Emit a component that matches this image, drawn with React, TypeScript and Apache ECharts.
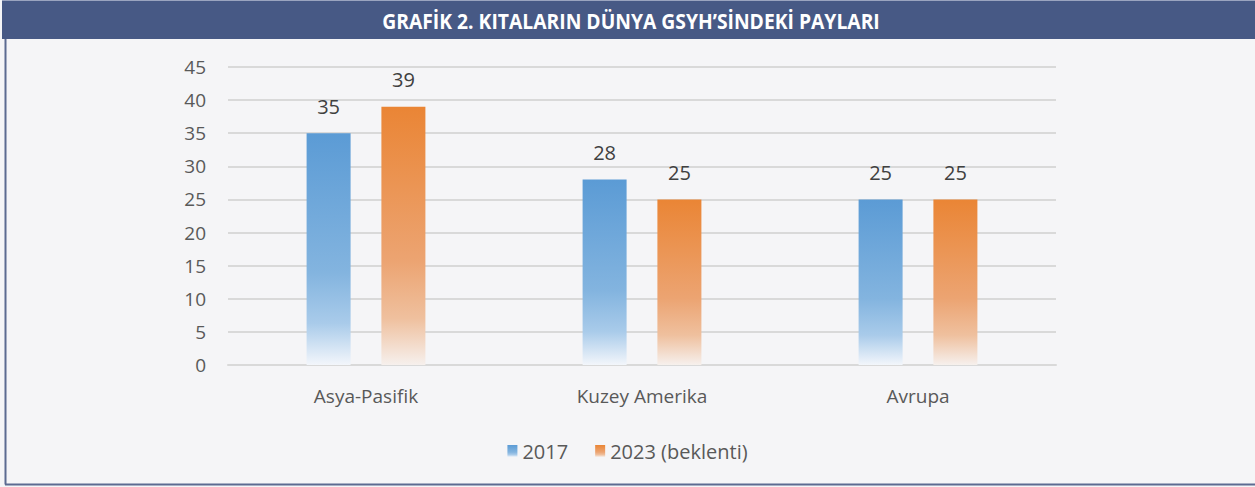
import React, { useEffect, useRef } from "react";
import * as echarts from "echarts";

const categories = ["Asya-Pasifik", "Kuzey Amerika", "Avrupa"];
const seriesNames = ["2017", "2023 (beklenti)"];
const values2017 = [35, 28, 25];
const values2023 = [39, 25, 25];
const titleText = "GRAFİK 2. KITALARIN DÜNYA GSYH’SİNDEKİ PAYLARI";

const blueGrad = new echarts.graphic.LinearGradient(0, 0, 0, 1, [
  { offset: 0, color: "#5b9bd5" },
  { offset: 0.6, color: "#83b4df" },
  { offset: 0.82, color: "#a9cbea" },
  { offset: 1, color: "#f3f6fb" },
]);
const orangeGrad = new echarts.graphic.LinearGradient(0, 0, 0, 1, [
  { offset: 0, color: "#ea8535" },
  { offset: 0.6, color: "#eca472" },
  { offset: 0.82, color: "#efc09e" },
  { offset: 1, color: "#f6f0ed" },
]);

export default function App() {
  const ref = useRef<HTMLDivElement>(null);
  useEffect(() => {
    if (!ref.current) return;
    const chart = echarts.init(ref.current, null, { renderer: "svg" });
    const font = "'Open Sans', sans-serif";
    chart.setOption({
      animation: false,
      backgroundColor: "#f5f5f7",
      textStyle: { fontFamily: font },
      graphic: [
        {
          type: "rect",
          shape: { x: 2, y: 1, width: 1253, height: 38 },
          style: { fill: "#475985" },
          silent: true,
        },
        {
          type: "line",
          shape: { x1: 2, y1: 0.5, x2: 1255, y2: 0.5 },
          style: { stroke: "#9aa4bf", lineWidth: 1 },
          silent: true,
        },
        {
          type: "line",
          shape: { x1: 5.5, y1: 39, x2: 5.5, y2: 484.5 },
          style: { stroke: "#5c6b91", lineWidth: 2 },
          silent: true,
        },
        {
          type: "line",
          shape: { x1: 5, y1: 484.5, x2: 1255, y2: 484.5 },
          style: { stroke: "#5c6b91", lineWidth: 2 },
          silent: true,
        },
        {
          type: "text",
          x: 631,
          y: 21,
          scaleX: 0.92,
          originX: 0,
          style: {
            text: titleText,
            fill: "#ffffff",
            font: "bold 21px 'Open Sans', sans-serif",
            align: "center",
            verticalAlign: "middle",
          },
          silent: true,
        },
      ],
      legend: {
        bottom: 21,
        left: "center",
        itemWidth: 10,
        itemHeight: 12,
        itemGap: 27,
        icon: "rect",
        textStyle: { fontSize: 20, color: "#595959", fontFamily: font },
        data: seriesNames,
      },
      grid: { left: 228, right: 199, top: 67, bottom: 122 },
      xAxis: {
        type: "category",
        data: categories,
        axisLine: { lineStyle: { color: "#d9d9d9", width: 2 } },
        axisTick: { show: false },
        axisLabel: { fontSize: 19, color: "#595959", margin: 21, fontFamily: font },
      },
      yAxis: {
        type: "value",
        min: 0,
        max: 45,
        interval: 5,
        axisLine: { show: false },
        axisTick: { show: false },
        axisLabel: { fontSize: 19, color: "#595959", margin: 22, fontFamily: font },
        splitLine: { lineStyle: { color: "#d9d9d9", width: 2 } },
      },
      series: [
        {
          name: seriesNames[0],
          type: "bar",
          data: values2017,
          barWidth: 44,
          barGap: "70%",
          itemStyle: { color: blueGrad },
          label: {
            show: true,
            position: "top",
            distance: 17,
            fontSize: 20,
            color: "#404040",
            fontFamily: font,
          },
        },
        {
          name: seriesNames[1],
          type: "bar",
          data: values2023,
          barWidth: 44,
          itemStyle: { color: orangeGrad },
          label: {
            show: true,
            position: "top",
            distance: 17,
            fontSize: 20,
            color: "#404040",
            fontFamily: font,
          },
        },
      ],
    });
    return () => chart.dispose();
  }, []);
  return (
    <div
      ref={ref}
      style={{ position: "fixed", left: 0, top: 0, width: 1255, height: 487 }}
    />
  );
}
